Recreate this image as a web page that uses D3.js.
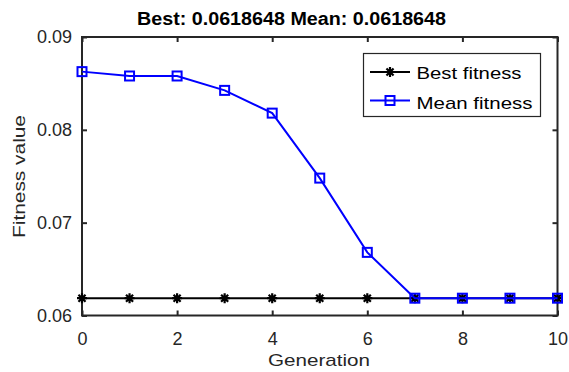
<!DOCTYPE html>
<html>
<head>
<meta charset="utf-8">
<script src="https://cdn.jsdelivr.net/npm/d3@7"></script>
<style>
  body { margin: 0; background: #fff; }
  svg { font-family: Arial, "Liberation Sans", sans-serif; }
</style>
</head>
<body>
<svg width="569" height="372"></svg>
<script>
const svg = d3.select("svg");

// data
const generations = [0, 1, 2, 3, 4, 5, 6, 7, 8, 9, 10];
const bestFitness = [0.0618648, 0.0618648, 0.0618648, 0.0618648, 0.0618648, 0.0618648,
  0.0618648, 0.0618648, 0.0618648, 0.0618648, 0.0618648];
const meanFitness = [0.08627, 0.08580, 0.08580, 0.08425, 0.08180, 0.07480,
  0.06680, 0.0618648, 0.0618648, 0.0618648, 0.0618648];
const xTicks = [0, 2, 4, 6, 8, 10];
const yTicks = [0.06, 0.07, 0.08, 0.09];
const titleText = "Best: 0.0618648 Mean: 0.0618648";

const plotL = 82, plotR = 557.5, plotT = 37, plotB = 315.5;
const axisColor = "#262626";

const x = d3.scaleLinear().domain([0, 10]).range([plotL, plotR]);
const y = d3.scaleLinear().domain([0.06, 0.09]).range([plotB, plotT]);

// axes with inward ticks (box style)
const tickLen = 5;
const fmtY = d => d3.format(".2f")(d);

svg.append("g")
  .attr("transform", `translate(0,${plotB})`)
  .call(d3.axisBottom(x).tickValues(xTicks).tickSizeInner(-tickLen).tickSizeOuter(0).tickPadding(17))
  .call(g => g.select(".domain").remove())
  .call(g => g.selectAll("line").attr("stroke", axisColor).attr("stroke-width", 2))
  .call(g => g.selectAll("text").attr("font-size", 18).attr("fill", axisColor).attr("font-family", "Arial, 'Liberation Sans', sans-serif"));

svg.append("g")
  .attr("transform", `translate(0,${plotT})`)
  .call(d3.axisTop(x).tickValues(xTicks).tickSizeInner(-tickLen).tickSizeOuter(0).tickFormat(""))
  .call(g => g.select(".domain").remove())
  .call(g => g.selectAll("line").attr("stroke", axisColor).attr("stroke-width", 2));

svg.append("g")
  .attr("transform", `translate(${plotL},0)`)
  .call(d3.axisLeft(y).tickValues(yTicks).tickFormat(fmtY).tickSizeInner(-tickLen).tickSizeOuter(0).tickPadding(10))
  .call(g => g.select(".domain").remove())
  .call(g => g.selectAll("line").attr("stroke", axisColor).attr("stroke-width", 2))
  .call(g => g.selectAll("text").attr("font-size", 18).attr("fill", axisColor).attr("font-family", "Arial, 'Liberation Sans', sans-serif"));

svg.append("g")
  .attr("transform", `translate(${plotR},0)`)
  .call(d3.axisRight(y).tickValues(yTicks).tickSizeInner(-tickLen).tickSizeOuter(0).tickFormat(""))
  .call(g => g.select(".domain").remove())
  .call(g => g.selectAll("line").attr("stroke", axisColor).attr("stroke-width", 2));

// box
svg.append("rect")
  .attr("x", plotL).attr("y", plotT)
  .attr("width", plotR - plotL).attr("height", plotB - plotT)
  .attr("fill", "none").attr("stroke", axisColor).attr("stroke-width", 2);

// asterisk marker path
function starPath(cx, cy, r) {
  let p = "";
  for (let i = 0; i < 4; i++) {
    const a = i * Math.PI / 4;
    const dx = r * Math.cos(a), dy = r * Math.sin(a);
    p += `M${cx - dx},${cy - dy}L${cx + dx},${cy + dy}`;
  }
  return p;
}

const line = d3.line().x((d, i) => x(generations[i])).y(d => y(d));

// best fitness
svg.append("path")
  .datum(bestFitness)
  .attr("d", line)
  .attr("fill", "none").attr("stroke", "#000").attr("stroke-width", 2);

svg.append("g").selectAll("path")
  .data(bestFitness)
  .enter().append("path")
  .attr("d", (d, i) => starPath(x(generations[i]), y(d), 5))
  .attr("stroke", "#000").attr("stroke-width", 2.2);

// mean fitness
svg.append("path")
  .datum(meanFitness)
  .attr("d", line)
  .attr("fill", "none").attr("stroke", "#0000ff").attr("stroke-width", 2);

svg.append("g").selectAll("rect")
  .data(meanFitness)
  .enter().append("rect")
  .attr("x", (d, i) => x(generations[i]) - 4.5)
  .attr("y", d => y(d) - 4.5)
  .attr("width", 9).attr("height", 9)
  .attr("fill", "none").attr("stroke", "#0000ff").attr("stroke-width", 2);

// legend
const lg = svg.append("g");
lg.append("rect")
  .attr("x", 363.5).attr("y", 53.5).attr("width", 177).attr("height", 63)
  .attr("fill", "#fff").attr("stroke", axisColor).attr("stroke-width", 1.2);

const legendItems = [
  { label: "Best fitness", color: "#000", marker: "star", yy: 72, base: 79, len: 105 },
  { label: "Mean fitness", color: "#0000ff", marker: "square", yy: 100.5, base: 108.5, len: 116 }
];
legendItems.forEach(it => {
  lg.append("line")
    .attr("x1", 370).attr("x2", 410).attr("y1", it.yy).attr("y2", it.yy)
    .attr("stroke", it.color).attr("stroke-width", 2);
  if (it.marker === "star") {
    lg.append("path").attr("d", starPath(390, it.yy, 5))
      .attr("stroke", it.color).attr("stroke-width", 2.2);
  } else {
    lg.append("rect").attr("x", 385.5).attr("y", it.yy - 4.5)
      .attr("width", 9).attr("height", 9)
      .attr("fill", "none").attr("stroke", it.color).attr("stroke-width", 2);
  }
  lg.append("text")
    .attr("x", 416.5).attr("y", it.base)
    .attr("font-size", 17).attr("fill", "#000")
    .attr("textLength", it.len).attr("lengthAdjust", "spacingAndGlyphs")
    .text(it.label);
});

// title & labels
svg.append("text")
  .attr("x", 137).attr("y", 25)
  .attr("font-size", 18).attr("font-weight", "bold").attr("fill", "#000")
  .attr("textLength", 309).attr("lengthAdjust", "spacingAndGlyphs")
  .text(titleText);

svg.append("text")
  .attr("x", 268).attr("y", 366)
  .attr("font-size", 17).attr("fill", axisColor)
  .attr("textLength", 102).attr("lengthAdjust", "spacingAndGlyphs")
  .text("Generation");

svg.append("text")
  .attr("transform", `translate(25,238) rotate(-90)`)
  .attr("font-size", 17).attr("fill", axisColor)
  .attr("textLength", 123).attr("lengthAdjust", "spacingAndGlyphs")
  .text("Fitness value");
</script>
</body>
</html>
